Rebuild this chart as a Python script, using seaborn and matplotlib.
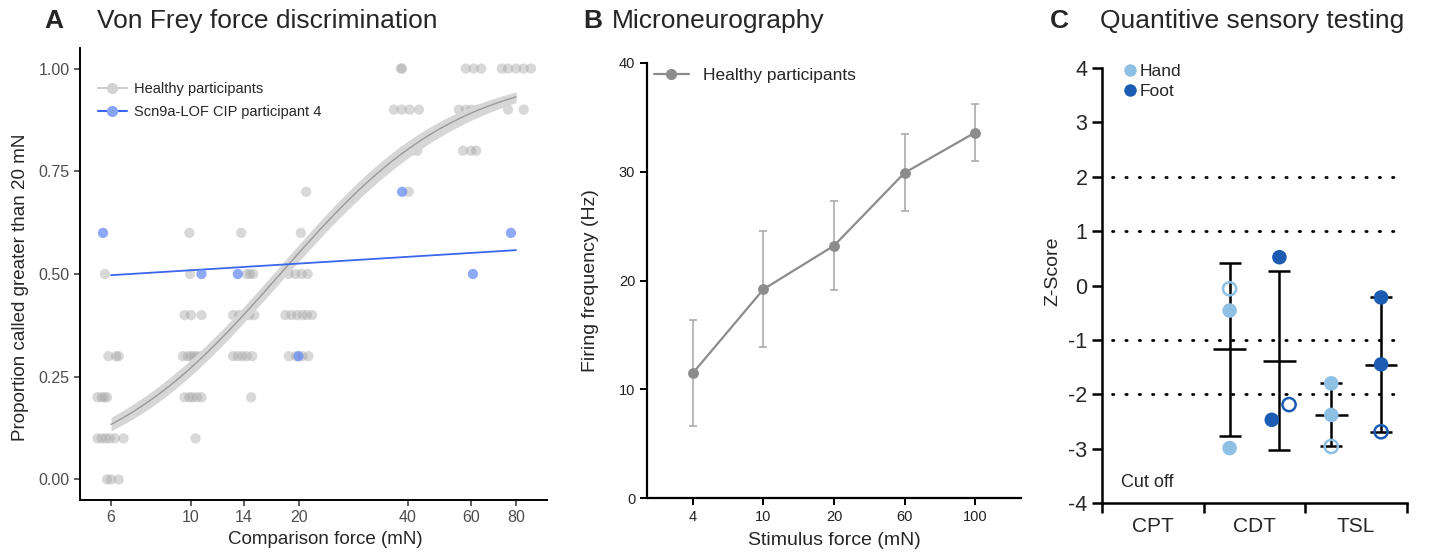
import numpy as np
import pandas as pd
import matplotlib
matplotlib.use("Agg")
import matplotlib.pyplot as plt
from matplotlib.lines import Line2D
import seaborn as sns

# ---------------- data ----------------
# Panel A: healthy participants (nominal force, displayed/jittered force, proportion)
healthy_force = ([6]*17 + [10]*17 + [14]*15 + [20]*16 + [40]*10 + [60]*11 + [80]*7)
healthy_shown = [5.77, 5.9, 6.2, 6.3, 5.5, 5.65, 5.75, 5.85, 5.5, 5.65, 5.8, 5.95, 6.15, 6.5, 5.85, 6.0, 6.3,
                 9.9, 9.95, 9.6, 10.0, 10.7, 9.5, 9.8, 10.0, 10.2, 10.4, 10.7, 9.6, 9.9, 10.1, 10.4, 10.7, 10.3,
                 13.8, 14.3, 14.6, 14.9, 13.1, 13.6, 14.0, 14.5, 15.0, 13.1, 13.5, 13.9, 14.3, 14.8, 14.7,
                 20.9, 20.2, 18.7, 19.5, 20.3, 21.1, 18.3, 19.0, 19.7, 20.4, 21.0, 21.7, 18.7, 19.6, 20.4, 21.2,
                 38.3, 38.6, 36.6, 38.5, 40.5, 43.0, 39.0, 41.0, 42.5, 40.3,
                 58.0, 61.0, 64.0, 55.5, 58.0, 60.0, 62.5, 65.0, 57.0, 60.0, 62.0,
                 73.0, 76.0, 80.0, 84.0, 88.0, 76.0, 84.0]
healthy_prop = [0.5, 0.3, 0.3, 0.3, 0.2, 0.2, 0.2, 0.2, 0.1, 0.1, 0.1, 0.1, 0.1, 0.1, 0.0, 0.0, 0.0,
                0.6, 0.5, 0.4, 0.4, 0.4, 0.3, 0.3, 0.3, 0.3, 0.3, 0.3, 0.2, 0.2, 0.2, 0.2, 0.2, 0.1,
                0.6, 0.5, 0.5, 0.5, 0.4, 0.4, 0.4, 0.4, 0.4, 0.3, 0.3, 0.3, 0.3, 0.3, 0.2,
                0.7, 0.6, 0.5, 0.5, 0.5, 0.5, 0.4, 0.4, 0.4, 0.4, 0.4, 0.4, 0.3, 0.3, 0.3, 0.3,
                1.0, 1.0, 0.9, 0.9, 0.9, 0.9, 0.8, 0.8, 0.8, 0.7,
                1.0, 1.0, 1.0, 0.9, 0.9, 0.9, 0.9, 0.9, 0.8, 0.8, 0.8,
                1.0, 1.0, 1.0, 1.0, 1.0, 0.9, 0.9]
trials_per_force = 10

# Panel A: CIP participant 4
cip_force = [6, 10, 14, 20, 40, 60, 80]
cip_shown = [5.7, 10.7, 13.5, 19.9, 38.6, 60.7, 77.4]
cip_prop = [0.6, 0.5, 0.5, 0.3, 0.7, 0.5, 0.6]
force_ticks = [6, 10, 14, 20, 40, 60, 80]

# Panel B: microneurography
stim_labels = ["4", "10", "20", "60", "100"]
firing_mean = [11.5, 19.2, 23.2, 29.9, 33.6]
firing_err = [4.9, 5.35, 4.1, 3.55, 2.65]

# Panel C: QST z-scores (3 values each; hollow = participant 4)
qst_tests = ["CPT", "CDT", "TSL"]
cdt_hand = [-0.06, -0.46, -2.99]
cdt_hand_hollow = [True, False, False]
cdt_foot = [0.52, -2.47, -2.19]
cdt_foot_hollow = [False, False, True]
tsl_hand = [-1.80, -2.38, -2.96]
tsl_hand_hollow = [False, False, True]
tsl_foot = [-0.22, -1.45, -2.69]
tsl_foot_hollow = [False, False, True]
cutoff_lines = [2, 1, -1, -2]

# ---------------- style ----------------
sns.set_style("ticks")
plt.rcParams['font.family'] = ['Liberation Sans', 'DejaVu Sans']
plt.rcParams['axes.unicode_minus'] = False

fig = plt.figure(figsize=(14.47, 5.53), dpi=100)
W, H = 1447, 553
axA = fig.add_axes([80 / W, 1 - 500 / H, 467 / W, 452 / H])
axB = fig.add_axes([647 / W, 1 - 498 / H, 374 / W, 435 / H])
axC = fig.add_axes([1102 / W, 1 - 503 / H, 305 / W, 435 / H])

# ---------------- Panel A ----------------
gray_pt = "#a3a3a3"
blue_pt = "#5f87f4"
blue_line = "#3b67f0"

axA.set_xscale("log")
sns.scatterplot(x=healthy_shown, y=healthy_prop, ax=axA, color=gray_pt, alpha=0.42,
                s=55, edgecolor="none", legend=False, zorder=2)

# logistic fit (binomial GLM by IRLS) on log force
f = np.log(np.array(healthy_force, float))
yv = np.array(healthy_prop, float)
Xm = np.column_stack([np.ones_like(f), f])
beta = np.zeros(2)
for _ in range(60):
    eta = Xm @ beta
    p = 1 / (1 + np.exp(-eta))
    w = trials_per_force * p * (1 - p)
    z = eta + (yv - p) / (p * (1 - p))
    A = Xm.T @ (w[:, None] * Xm)
    beta = np.linalg.solve(A, Xm.T @ (w * z))
cov = np.linalg.inv(A)
grid = np.geomspace(min(healthy_force), max(healthy_force), 200)
Xg = np.column_stack([np.ones_like(grid), np.log(grid)])
eg = Xg @ beta
se = np.sqrt(np.sum((Xg @ cov) * Xg, axis=1))
inv = lambda e: 1 / (1 + np.exp(-e))
axA.fill_between(grid, inv(eg - se), inv(eg + se), color="#d6d6d6", lw=0, zorder=3)
axA.plot(grid, inv(eg), color="#9a9a9a", lw=1.0, zorder=4)

sns.regplot(x=np.array(cip_force, float), y=cip_prop, logx=True, scatter=False, ci=None,
            ax=axA, color=blue_line, line_kws=dict(lw=1.3, zorder=5))
sns.scatterplot(x=cip_shown, y=cip_prop, ax=axA, color=blue_pt, alpha=0.7, s=55,
                edgecolor="none", legend=False, zorder=6)

axA.set_xlim(4.92, 97.5)
axA.set_ylim(-0.05, 1.05)
axA.set_xticks(force_ticks)
axA.set_xticklabels([str(t) for t in force_ticks])
axA.xaxis.set_minor_locator(matplotlib.ticker.NullLocator())
axA.set_yticks([0, 0.25, 0.5, 0.75, 1.0])
axA.set_yticklabels(["0.00", "0.25", "0.50", "0.75", "1.00"])
axA.tick_params(labelsize=11.5, labelcolor="#4d4d4d", color="#333333", length=4, width=1.1)
for s in ["top", "right"]:
    axA.spines[s].set_visible(False)
for s in ["left", "bottom"]:
    axA.spines[s].set_linewidth(1.4)
    axA.spines[s].set_color("black")
axA.set_xlabel("Comparison force (mN)", fontsize=13.5)
axA.set_ylabel("Proportion called greater than 20 mN", fontsize=13.5)
axA.xaxis.set_label_coords(0.525, -0.088)
axA.xaxis.label.set_va("center")
axA.yaxis.set_label_coords(-0.128, 0.47)
axA.yaxis.label.set_va("center")
hA = [Line2D([0], [0], color="#cbcbcb", lw=1.5, marker="o", ms=8, mfc="#d2d2d2", mec="none"),
      Line2D([0], [0], color=blue_line, lw=1.5, marker="o", ms=8, mfc="#86a3f5", mec="none")]
axA.legend(hA, ["Healthy participants", "Scn9a-LOF CIP participant 4"], loc="upper left",
           bbox_to_anchor=(0.025, 0.937), frameon=False, fontsize=10.5, handlelength=2.0,
           handletextpad=0.5, labelspacing=0.6, borderaxespad=0)

# ---------------- Panel B ----------------
xb = np.arange(len(stim_labels))
axB.errorbar(xb, firing_mean, yerr=firing_err, fmt="none", ecolor="#ababab", elinewidth=1.2,
             capsize=3, capthick=1.2, zorder=2)
sns.lineplot(x=xb, y=firing_mean, ax=axB, color="#8c8c8c", lw=1.6, marker="o", ms=7,
             markeredgecolor="#8c8c8c", zorder=3)
axB.set_xlim(-0.652, len(stim_labels) - 1 + 0.652)
axB.set_ylim(0, 40)
axB.set_xticks(xb)
axB.set_xticklabels(stim_labels)
axB.set_yticks([0, 10, 20, 30, 40])
axB.tick_params(labelsize=10.5, labelcolor="#222222", color="black", length=5, width=1.4)
for s in ["top", "right"]:
    axB.spines[s].set_visible(False)
for s in ["left", "bottom"]:
    axB.spines[s].set_linewidth(1.6)
    axB.spines[s].set_color("black")
axB.set_xlabel("Stimulus force (mN)", fontsize=14)
axB.set_ylabel("Firing frequency (Hz)", fontsize=14)
axB.xaxis.set_label_coords(0.5, -0.098)
axB.xaxis.label.set_va("center")
axB.yaxis.set_label_coords(-0.152, 0.5)
axB.yaxis.label.set_va("center")
hB = [Line2D([0], [0], color="#8c8c8c", lw=1.6, marker="o", ms=7, mfc="#8c8c8c", mec="#8c8c8c")]
axB.legend(hB, ["Healthy participants"], loc="upper left", bbox_to_anchor=(0.0, 1.005),
           frameon=False, fontsize=12.5, handlelength=2.0, handletextpad=0.8, borderaxespad=0)

# ---------------- Panel C ----------------
hand_c = "#8ec0e4"
foot_c = "#1c5db3"
for yl in cutoff_lines:
    axC.axhline(yl, xmin=0.033, xmax=0.985, color="black", lw=2.0,
                linestyle=(0, (0.5, 4.3)), dash_capstyle="round", zorder=1)

groups = [
    (1, -0.245, cdt_hand, cdt_hand_hollow, hand_c, [0, 0, 0]),
    (1, 0.245, cdt_foot, cdt_foot_hollow, foot_c, [0, -0.075, 0.095]),
    (2, -0.245, tsl_hand, tsl_hand_hollow, hand_c, [0, 0, 0]),
    (2, 0.245, tsl_foot, tsl_foot_hollow, foot_c, [0, 0, 0]),
]
for ci, off, vals, hollow, col, jit in groups:
    xc = ci + off
    m = np.mean(vals)
    sd = np.std(vals, ddof=1)
    axC.errorbar([xc], [m], yerr=[sd], fmt="none", ecolor="black", elinewidth=1.8,
                 capsize=8, capthick=1.8, zorder=2)
    axC.hlines(m, xc - 0.16, xc + 0.16, color="black", lw=1.8, zorder=2)
    for v, h, j in zip(vals, hollow, jit):
        if h:
            axC.scatter([xc + j], [v], s=90, facecolor="none", edgecolor=col, linewidth=1.8, zorder=4)
        else:
            axC.scatter([xc + j], [v], s=110, facecolor=col, edgecolor="none", zorder=4)

axC.set_xlim(-0.5, 2.5)
axC.set_ylim(-4, 4)
axC.set_yticks(range(-4, 5))
axC.set_xticks([0, 1, 2])
axC.set_xticklabels(qst_tests)
axC.set_xticks([-0.5, 0.5, 1.5, 2.5], minor=True)
axC.tick_params(axis="x", which="major", length=0, labelsize=15, pad=10)
axC.tick_params(axis="x", which="minor", length=7, width=1.8, color="black")
axC.tick_params(axis="y", labelsize=15.5, length=7, width=1.8, color="black")
for s in ["top", "right"]:
    axC.spines[s].set_visible(False)
for s in ["left", "bottom"]:
    axC.spines[s].set_linewidth(1.8)
    axC.spines[s].set_color("black")
axC.set_ylabel("Z-Score", fontsize=14)
axC.yaxis.set_label_coords(-0.16, 0.533)
axC.yaxis.label.set_va("center")
axC.text(-0.31, -3.63, "Cut off", fontsize=13, va="center", ha="left")
hC = [Line2D([0], [0], lw=0, marker="o", ms=9, mfc=hand_c, mec="none"),
      Line2D([0], [0], lw=0, marker="o", ms=9, mfc=foot_c, mec="none")]
axC.legend(hC, ["Hand", "Foot"], loc="upper left", bbox_to_anchor=(0.045, 1.025), frameon=False,
           fontsize=12.5, handlelength=0.8, handletextpad=0.2, labelspacing=0.25, borderaxespad=0)

# ---------------- titles ----------------
ty = 1 - 21 / H
fig.text(44 / W, ty, "A", fontsize=19, fontweight="bold", va="center", ha="left")
fig.text(97 / W, ty, "Von Frey force discrimination", fontsize=19, va="center", ha="left")
fig.text(583 / W, ty, "B", fontsize=19, fontweight="bold", va="center", ha="left")
fig.text(612 / W, ty, "Microneurography", fontsize=19, va="center", ha="left")
fig.text(1050 / W, ty, "C", fontsize=19, fontweight="bold", va="center", ha="left")
fig.text(1100 / W, ty, "Quantitive sensory testing", fontsize=19, va="center", ha="left")

fig.savefig("out.png", dpi=100)
